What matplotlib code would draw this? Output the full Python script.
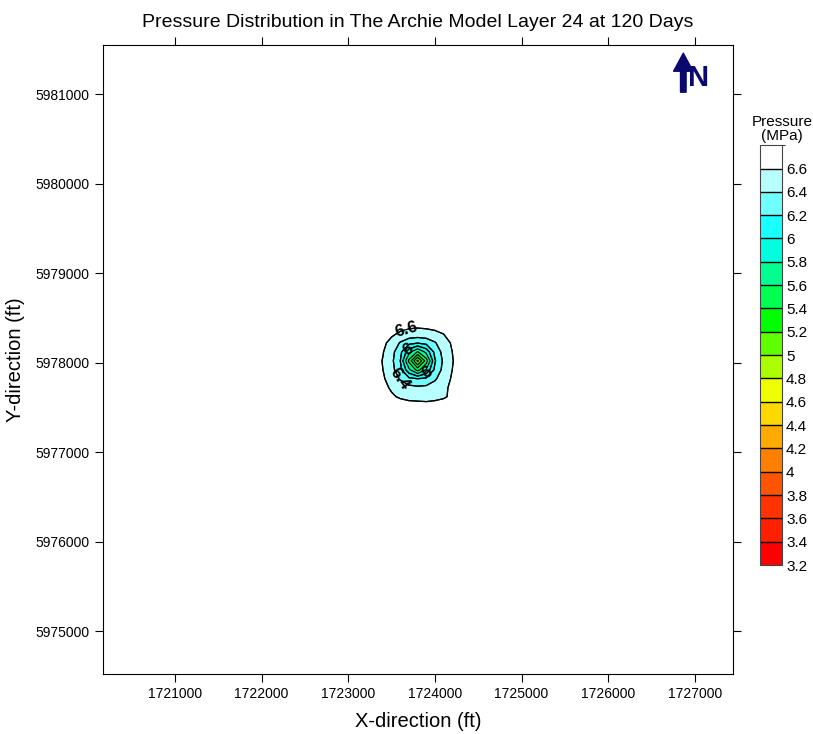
import matplotlib
matplotlib.use('Agg')
import numpy as np
import matplotlib.pyplot as plt
from matplotlib.colors import ListedColormap, BoundaryNorm

plt.rcParams['font.family'] = ['Liberation Sans', 'DejaVu Sans']

# Grid nodes around the well (ft).
x_nodes = [1723300, 1723400, 1723500, 1723600, 1723700, 1723800,
           1723900, 1724000, 1724100, 1724200, 1724300]
y_nodes = [5977520, 5977620, 5977720, 5977820, 5977920, 5978020,
           5978120, 5978220, 5978320, 5978420, 5978520]

# Pressure (MPa), rows from south to north.
pressure = [
    [6.70, 6.70, 6.69, 6.67, 6.65, 6.65, 6.64, 6.65, 6.67, 6.70, 6.70],
    [6.70, 6.66, 6.62, 6.58, 6.56, 6.55, 6.55, 6.56, 6.58, 6.63, 6.69],
    [6.69, 6.64, 6.58, 6.52, 6.46, 6.44, 6.45, 6.50, 6.57, 6.63, 6.68],
    [6.70, 6.62, 6.53, 6.38, 6.25, 6.20, 6.24, 6.37, 6.52, 6.62, 6.69],
    [6.69, 6.60, 6.47, 6.26, 5.85, 5.52, 5.82, 6.25, 6.46, 6.60, 6.68],
    [6.68, 6.59, 6.45, 6.20, 5.55, 4.95, 5.50, 6.18, 6.44, 6.59, 6.68],
    [6.69, 6.61, 6.47, 6.26, 5.87, 5.58, 5.86, 6.26, 6.47, 6.60, 6.69],
    [6.70, 6.64, 6.54, 6.38, 6.26, 6.21, 6.26, 6.38, 6.53, 6.62, 6.70],
    [6.70, 6.68, 6.63, 6.57, 6.53, 6.52, 6.53, 6.56, 6.60, 6.66, 6.70],
    [6.70, 6.70, 6.69, 6.67, 6.65, 6.64, 6.65, 6.66, 6.68, 6.70, 6.70],
    [6.70, 6.70, 6.70, 6.70, 6.70, 6.70, 6.70, 6.70, 6.70, 6.70, 6.70],
]

levels = [3.2, 3.4, 3.6, 3.8, 4.0, 4.2, 4.4, 4.6, 4.8, 5.0, 5.2,
          5.4, 5.6, 5.8, 6.0, 6.2, 6.4, 6.6, 6.8]
label_levels = [6.0, 6.2, 6.4, 6.6]
band_colors = ['#ff0000', '#ff2000', '#ff3300', '#ff5500', '#ff8000', '#ffaa00',
               '#ffd800', '#f0ff00', '#aaff00', '#60ff00', '#00ff00', '#00ff50',
               '#00ff90', '#00ffdd', '#1affff', '#70ffff', '#b8ffff', '#ffffff']

x_ticks = [1721000, 1722000, 1723000, 1724000, 1725000, 1726000, 1727000]
y_ticks = [5975000, 5976000, 5977000, 5978000, 5979000, 5980000, 5981000]

# label spots on the contours
label_spots = [(1723678, 5978335), (1723609, 5977832),
               (1723724, 5978112), (1723885, 5977911)]

cmap = ListedColormap(band_colors)
norm = BoundaryNorm(levels, cmap.N)

fig = plt.figure(figsize=(8.13, 7.34), dpi=100)
ax = fig.add_axes([0.1267, 0.0817, 0.775, 0.857])

X, Y = np.meshgrid(x_nodes, y_nodes)
Z = np.array(pressure)
cf = ax.contourf(X, Y, Z, levels=levels, cmap=cmap, norm=norm)
ax.contour(X, Y, Z, levels=levels[:-1], colors='black', linewidths=0.9)
cs_lab = ax.contour(X, Y, Z, levels=label_levels, colors='black', linewidths=0.9)
ax.clabel(cs_lab, manual=label_spots, fmt='%g', fontsize=12,
          inline=True, inline_spacing=1)
for t in cs_lab.labelTexts:
    t.set_fontweight('bold')

ax.set_xlim(1720170, 1727440)
ax.set_ylim(5974520, 5981550)
ax.set_xticks(x_ticks)
ax.set_yticks(y_ticks)
ax.xaxis.set_major_formatter(matplotlib.ticker.FormatStrFormatter('%d'))
ax.yaxis.set_major_formatter(matplotlib.ticker.FormatStrFormatter('%d'))
ax.tick_params(direction='out', top=True, right=True, length=6, labelsize=10)
ax.set_xlabel('X-direction (ft)', fontsize=14.5, labelpad=8)
ax.set_ylabel('Y-direction (ft)', fontsize=14.5, labelpad=8)
ax.set_title('Pressure Distribution in The Archie Model Layer 24 at 120 Days',
             fontsize=14, pad=13)

# north arrow
ax.annotate('', xy=(0.921, 0.987), xytext=(0.921, 0.925),
            xycoords='axes fraction',
            arrowprops=dict(facecolor='#0a0a6e', edgecolor='#0a0a6e',
                            width=4, headwidth=14, headlength=13))
ax.text(0.946, 0.925, 'N', transform=ax.transAxes, fontsize=21,
        fontweight='bold', color='#0a0a6e', ha='center', va='bottom')

# colour bar
cax = fig.add_axes([0.9348, 0.2302, 0.027, 0.572])
cb = fig.colorbar(cf, cax=cax, drawedges=True)
cb.set_ticks(levels[:-1])
cb.ax.yaxis.set_major_formatter(matplotlib.ticker.FormatStrFormatter('%g'))
cb.ax.tick_params(length=0, labelsize=11, pad=3)
cb.outline.set_edgecolor('#444444')
cb.dividers.set_linewidth(1)
cax.set_title('Pressure\n(MPa)', fontsize=11, pad=4, linespacing=1.0, x=1.0)

fig.savefig('out.png', dpi=100)
